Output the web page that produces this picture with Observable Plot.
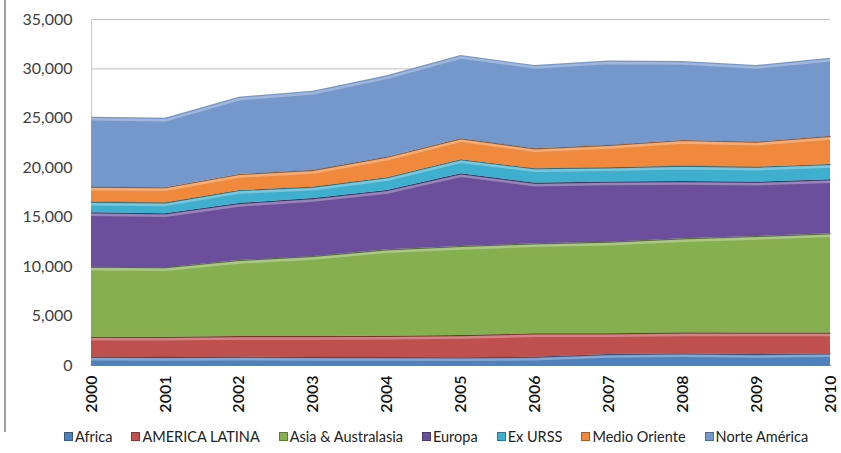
<!DOCTYPE html>
<html>
<head>
<meta charset="utf-8">
<script src="https://cdn.jsdelivr.net/npm/d3@7"></script>
<script src="https://cdn.jsdelivr.net/npm/@observablehq/plot@0.6"></script>
<style>
  html, body { margin: 0; padding: 0; background: #fff; }
  #wrap { position: relative; width: 841px; height: 453px; overflow: hidden; font-family: Lato, "Open Sans", sans-serif; }
  #edge { position: absolute; left: 4px; top: 0; width: 2px; height: 432px; background: #a0a0a0; }
  #legend { position: absolute; top: 428px; left: 64px; display: flex; align-items: center; font-size: 14.5px; color: #222; white-space: nowrap; }
  .item { display: flex; align-items: center; margin-right: 19px; }
  .sw { width: 7px; height: 7px; margin-right: 2px; border: 0.5px solid rgba(0,0,0,0.3); }
</style>
</head>
<body>
<div id="wrap">
  <div id="chart"></div>
  <div id="edge"></div>
  <div id="legend"></div>
</div>
<script>
const years = [2000, 2001, 2002, 2003, 2004, 2005, 2006, 2007, 2008, 2009, 2010];
const series = ["Africa", "AMERICA LATINA", "Asia & Australasia", "Europa", "Ex URSS", "Medio Oriente", "Norte América"];
const colors = ["#4F81BD", "#C0504D", "#86B04F", "#6B4F9C", "#3FAFCF", "#F0893B", "#7498CC"];

const africa        = [840, 820, 840, 820, 800, 780, 840, 1110, 1180, 1110, 1180];
const americaLatina = [2020, 2030, 2090, 2110, 2150, 2250, 2360, 2090, 2120, 2170, 2100];
const asiaAustral   = [7080, 7050, 7690, 8100, 8750, 9010, 9110, 9280, 9510, 9770, 10040];
const europa        = [5510, 5450, 5770, 5860, 6000, 7350, 6130, 6070, 5800, 5490, 5470];
const exUrss        = [1070, 1100, 1310, 1150, 1290, 1420, 1460, 1450, 1550, 1520, 1540];
const medioOriente  = [1520, 1530, 1620, 1690, 2080, 2120, 2020, 2260, 2600, 2530, 2840];
const norteAmerica  = [7080, 7020, 7820, 8020, 8230, 8430, 8430, 8540, 7990, 7760, 7920];

const yTicks = [0, 5000, 10000, 15000, 20000, 25000, 30000, 35000];

const valuesBySeries = [africa, americaLatina, asiaAustral, europa, exUrss, medioOriente, norteAmerica];
const data = series.flatMap((s, i) => years.map((year, j) => ({series: s, year, value: valuesBySeries[i][j]})));

const stackOpts = {x: "year", y: "value", z: "series", order: series};

const chart = Plot.plot({
  width: 841,
  height: 420,
  marginLeft: 91,
  marginRight: 11,
  marginTop: 19,
  marginBottom: 55,
  style: {fontFamily: "Lato, 'Open Sans', sans-serif", color: "#333", background: "transparent"},
  x: {domain: [2000, 2010], label: null},
  y: {domain: [0, 35000], label: null},
  color: {domain: series, range: colors},
  marks: [
    Plot.gridY(yTicks, {stroke: "#bdbdbd", strokeOpacity: 1}),
    Plot.ruleX([2000], {stroke: "#c8c8c8", strokeOpacity: 1}),
    Plot.areaY(data, {...stackOpts, fill: "series", fillOpacity: 1}),
    Plot.lineY(data, Plot.stackY1({...stackOpts, stroke: "#000", strokeOpacity: 0.35, strokeWidth: 1.2})),
    Plot.lineY(data, Plot.stackY2({...stackOpts, stroke: "#fff", strokeOpacity: 0.3, strokeWidth: 2.5, dy: 2})),
    Plot.axisY(yTicks, {tickFormat: d3.format(","), tickSize: 0, tickPadding: 19, fontSize: 16, fill: "#404040", label: null}),
    Plot.axisX(years, {tickFormat: d => String(d), tickRotate: -90, tickSize: 0, tickPadding: 10, fontSize: 16, fill: "#111", fontWeight: 600, label: null})
  ]
});
document.getElementById("chart").appendChild(chart);

const legend = document.getElementById("legend");
series.forEach((s, i) => {
  const item = document.createElement("div");
  item.className = "item";
  const sw = document.createElement("span");
  sw.className = "sw";
  sw.style.background = colors[i];
  const label = document.createElement("span");
  label.textContent = s;
  item.appendChild(sw);
  item.appendChild(label);
  legend.appendChild(item);
});
</script>
</body>
</html>
